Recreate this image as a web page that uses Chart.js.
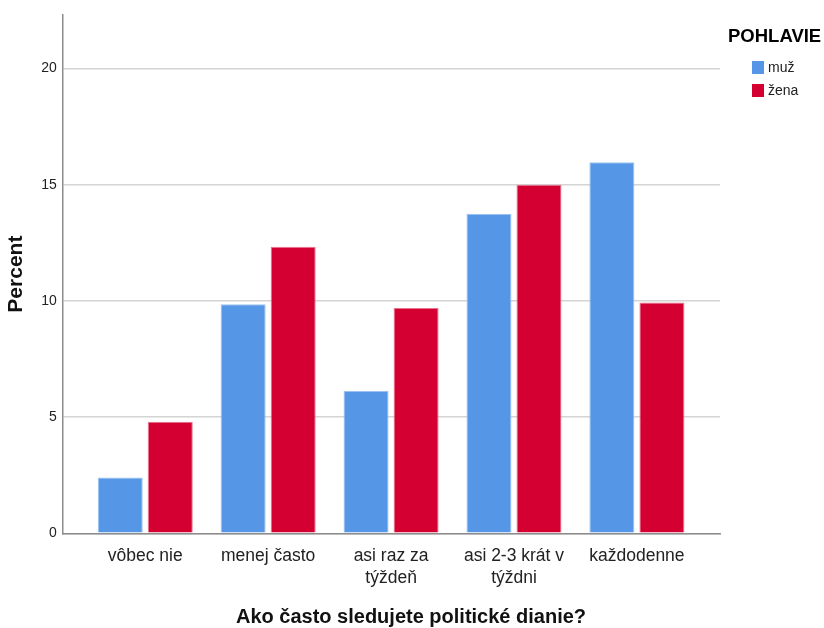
<!DOCTYPE html>
<html>
<head>
<meta charset="utf-8">
<script src="https://cdn.jsdelivr.net/npm/chart.js@4"></script>
<style>
    html, body { margin: 0; padding: 0; background: #fff; }
    #wrap { width: 824px; height: 628px; }
</style>
</head>
<body>
<div id="wrap"><canvas id="chart"></canvas></div>
<script>
const categories = ['vôbec nie', 'menej často', ['asi raz za', 'týždeň'], ['asi 2-3 krát v', 'týždni'], 'každodenne'];
const seriesNames = ['muž', 'žena'];
const muzValues = [2.4, 9.85, 6.13, 13.75, 15.96];
const zenaValues = [4.8, 12.33, 9.69, 15.0, 9.93];
const yTicks = [0, 5, 10, 15, 20];

const legendTitle = 'POHLAVIE';
const xTitle = 'Ako často sledujete politické dianie?';
const FONT = '"Liberation Sans", Arial, sans-serif';

// x range with extra room at both ends of the category axis
const X_MIN = -0.671;
const X_MAX = 4.676;

// legend + x title drawn on the canvas
const extras = {
    id: 'extras',
    afterDraw(chart) {
        const ctx = chart.ctx;
        ctx.save();
        ctx.fillStyle = '#000';
        ctx.textBaseline = 'middle';
        ctx.font = 'bold 18.5px ' + FONT;
        ctx.textAlign = 'left';
        ctx.fillText(legendTitle, 728, 37);
        ctx.font = '14px ' + FONT;
        chart.data.datasets.forEach((ds, i) => {
            const y = 61 + i * 23;
            ctx.fillStyle = ds.backgroundColor;
            ctx.fillRect(752, y, 12, 13);
            ctx.fillStyle = '#222';
            ctx.fillText(ds.label, 768, y + 7);
        });
        ctx.font = 'bold 20px ' + FONT;
        ctx.textAlign = 'center';
        ctx.fillStyle = '#111';
        ctx.fillText(xTitle, 411, 617);
        ctx.restore();
    }
};

new Chart(document.getElementById('chart').getContext('2d'), {
    type: 'bar',
    data: {
        labels: categories,
        datasets: [
            {
                label: seriesNames[0],
                data: muzValues,
                backgroundColor: '#5596E6',
                borderColor: '#9cc2f0',
                borderWidth: 1
            },
            {
                label: seriesNames[1],
                data: zenaValues,
                backgroundColor: '#D50032',
                borderColor: '#e8768f',
                borderWidth: 1
            }
        ]
    },
    options: {
        responsive: true,
        maintainAspectRatio: false,
        animation: false,
        layout: { padding: { top: 15, right: 104, bottom: 35, left: 0 } },
        datasets: { bar: { categoryPercentage: 0.814, barPercentage: 0.9 } },
        plugins: {
            legend: { display: false },
            tooltip: { enabled: false }
        },
        scales: {
            x: {
                offset: false,
                afterDataLimits: (axis) => {
                    axis.min = X_MIN;
                    axis.max = X_MAX;
                },
                afterBuildTicks: (axis) => {
                    axis.ticks = categories.map((c, i) => ({ value: i }));
                    axis._startValue = X_MIN;
                    axis._valueRange = X_MAX - X_MIN;
                },
                afterFit: (axis) => {
                    axis.paddingLeft = 0;
                    axis.paddingRight = 0;
                },
                grid: { display: false },
                border: { display: true, color: '#8c8c8c', width: 1.5 },
                ticks: {
                    color: '#222',
                    font: { family: FONT, size: 17.5, lineHeight: 1.25 },
                    maxRotation: 0,
                    autoSkip: false,
                    padding: 4
                }
            },
            y: {
                min: 0,
                max: 22.3,
                afterBuildTicks: (axis) => {
                    axis.ticks = yTicks.map(v => ({ value: v }));
                },
                grid: { color: '#d4d4d4', lineWidth: 1.5, drawTicks: false },
                border: { display: true, color: '#8c8c8c', width: 1.5 },
                ticks: {
                    color: '#222',
                    font: { family: FONT, size: 14 },
                    padding: 6
                },
                title: {
                    display: true,
                    text: 'Percent',
                    color: '#111',
                    font: { family: FONT, size: 21, weight: 'bold' },
                    padding: { top: 4, bottom: 6 }
                }
            }
        }
    },
    plugins: [extras]
});
</script>
</body>
</html>
